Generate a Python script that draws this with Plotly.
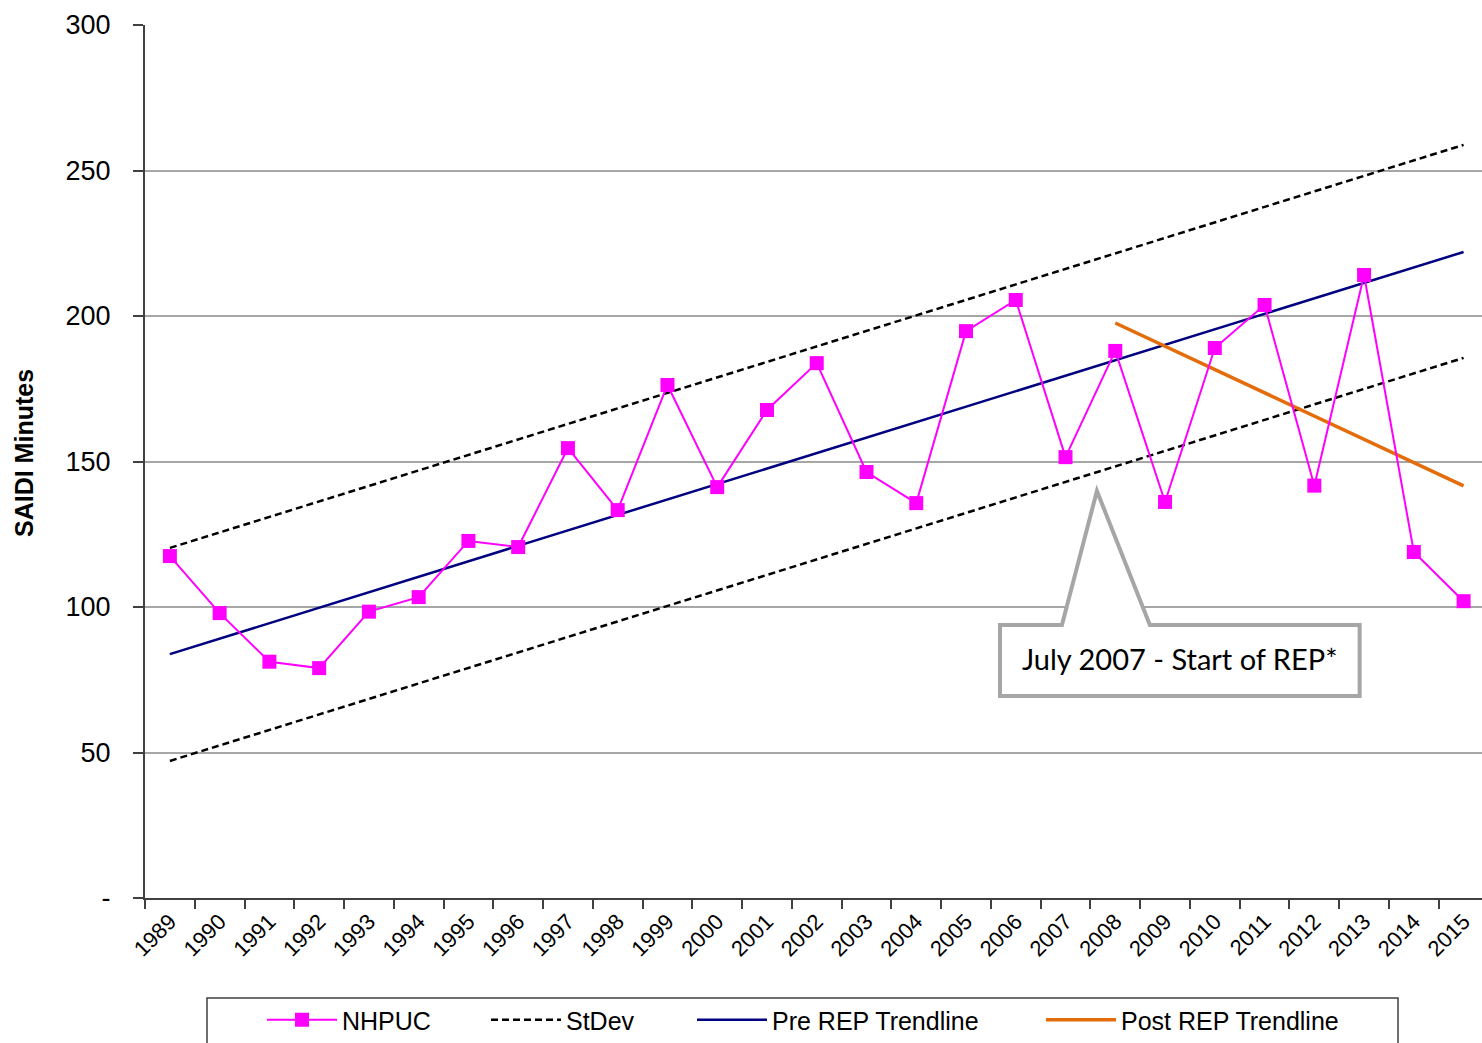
import plotly.graph_objects as go

years = ["1989", "1990", "1991", "1992", "1993", "1994", "1995", "1996", "1997",
         "1998", "1999", "2000", "2001", "2002", "2003", "2004", "2005", "2006",
         "2007", "2008", "2009", "2010", "2011", "2012", "2013", "2014", "2015"]
nhpuc = [117.5, 97.9, 81.2, 79.0, 98.4, 103.4, 122.7, 120.6, 154.6, 133.3,
         176.3, 141.2, 167.7, 183.8, 146.4, 135.7, 194.8, 205.5, 151.5, 188.0,
         136.1, 189.0, 203.8, 141.7, 214.1, 118.9, 102.0]

pre_years = ["1989", "2015"]
pre_trend = [83.8, 222.0]
stdev_upper = [120.3, 258.8]
stdev_lower = [47.1, 185.6]

post_years = ["2008", "2015"]
post_trend = [197.6, 141.6]

y_tickvals = [0, 50, 100, 150, 200, 250, 300]
y_ticktext = ["-", "50", "100", "150", "200", "250", "300"]

callout_text = "July 2007 - Start of REP*"

fig = go.Figure()

fig.add_trace(go.Scatter(
    x=pre_years, y=stdev_upper, mode="lines", name="StDev",
    line=dict(color="black", width=2.5, dash="7px,4px"),
    legend="legend2", legendgroup="sd"))
fig.add_trace(go.Scatter(
    x=pre_years, y=stdev_lower, mode="lines", name="StDev", showlegend=False,
    line=dict(color="black", width=2.5, dash="7px,4px"),
    legend="legend2", legendgroup="sd"))
fig.add_trace(go.Scatter(
    x=pre_years, y=pre_trend, mode="lines", name="Pre REP Trendline",
    line=dict(color="#000080", width=2.5), legend="legend3"))
fig.add_trace(go.Scatter(
    x=post_years, y=post_trend, mode="lines", name="Post REP Trendline",
    line=dict(color="#E46C0A", width=3.5), legend="legend4"))
fig.add_trace(go.Scatter(
    x=years, y=nhpuc, mode="lines+markers", name="NHPUC",
    line=dict(color="#FF00FF", width=2),
    marker=dict(symbol="square", size=14, color="#FF00FF"),
    legend="legend", showlegend=True))

FW, FH = 1482, 1043
L, T, B, W = 145, 25, 898, 1482 - 145
H = B - T
def px(x):
    return (x - L) / W
def py(y):
    return (B - y) / H

leg_common = dict(orientation="h", yanchor="middle", xanchor="left",
                  bgcolor="rgba(0,0,0,0)", borderwidth=0,
                  font=dict(family="Liberation Sans, Arial", size=25, color="black"),
                  itemwidth=70)
leg_y = py(1020)

# callout path in data (category index / value) coordinates
def ix(x):
    return (x - 169) / 49.81
def vy(y):
    return (B - y) / 2.91
pts = [(1000, 625), (1062, 625), (1097, 491), (1150, 625), (1360, 625), (1360, 696), (1000, 696)]
path = "M " + " L ".join(f"{ix(a):.3f},{vy(b):.3f}" for a, b in pts) + " Z"

fig.update_layout(
    width=FW, height=FH, showlegend=True,
    margin=dict(l=L, r=0, t=T, b=FH - B, autoexpand=False),
    plot_bgcolor="white", paper_bgcolor="white",
    font=dict(family="Liberation Sans, Arial", color="black"),
    legend=dict(leg_common, x=px(262), y=leg_y),
    legend2=dict(leg_common, x=px(486), y=leg_y),
    legend3=dict(leg_common, x=px(692), y=leg_y),
    legend4=dict(leg_common, x=px(1041), y=leg_y),
    xaxis=dict(
        type="category", categoryorder="array", categoryarray=years,
        range=[-0.5, 26.37], tickson="boundaries", automargin=False,
        showgrid=False, showline=True, linecolor="#404040", linewidth=2,
        ticks="outside", ticklen=9, tickwidth=2, tickcolor="#404040",
        tickangle=-45, tickfont=dict(size=22, color="black"),
        zeroline=False),
    yaxis=dict(
        range=[0, 300], tickvals=y_tickvals, ticktext=y_ticktext, automargin=False,
        showgrid=True, gridcolor="#a6a6a6", gridwidth=2,
        showline=True, linecolor="#404040", linewidth=2,
        ticks="outside", ticklen=10, tickwidth=2, tickcolor="#404040",
        ticklabelstandoff=17, tickfont=dict(size=27, color="black"),
        zeroline=False),
    shapes=[
        dict(type="path", path=path, xref="x", yref="y",
             line=dict(color="#a6a6a6", width=4), fillcolor="white", layer="above"),
        dict(type="rect", xref="paper", yref="paper",
             x0=px(207), x1=px(1398), y0=py(998), y1=py(1060),
             line=dict(color="#404040", width=1.5), fillcolor="rgba(0,0,0,0)"),
    ],
    annotations=[
        dict(text=callout_text, x=ix(1180), y=vy(658), xref="x", yref="y",
             showarrow=False, font=dict(family="Lato", size=29, color="black")),
        dict(text="<b>SAIDI Minutes</b>", x=px(24), y=py(453), xref="paper", yref="paper",
             xanchor="center", yanchor="middle",
             textangle=-90, showarrow=False,
             font=dict(family="Liberation Sans, Arial", size=25, color="black")),
    ],
)

fig.write_html(
    "out.html",
    config={"displayModeBar": False},
    post_script="document.body.style.margin='0';document.body.style.overflow='hidden';",
)
